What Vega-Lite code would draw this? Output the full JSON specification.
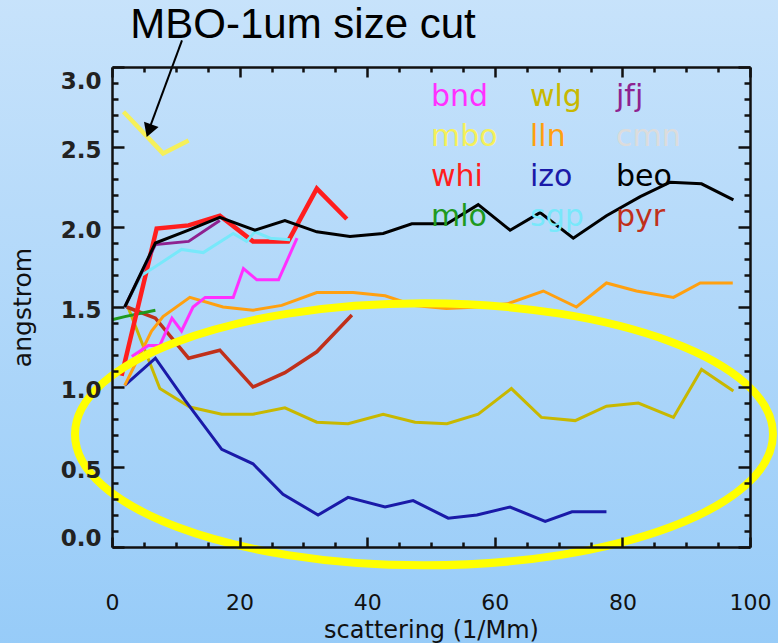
{
  "$schema": "https://vega.github.io/schema/vega-lite/v6.json",
  "width": 638,
  "height": 480,
  "autosize": {"type": "none"},
  "padding": {"left": 112, "top": 67, "right": 28, "bottom": 96},
  "background": "#b4d8fa",
  "config": {"view": {"stroke": null}, "font": "DejaVu Sans"},
  "resolve": {"axis": {"x": "independent", "y": "independent"}},
  "layer": [
    {
      "data": {"values": [{}]},
      "mark": {"type": "rect", "fill": {"gradient": "linear", "x1": 0, "y1": 0, "x2": 0, "y2": 1, "stops": [{"offset": 0, "color": "#c8e3fb"}, {"offset": 1, "color": "#96cbf8"}]}},
      "encoding": {
        "x": {"datum": -20, "type": "quantitative", "scale": {"domain": [0, 100], "nice": false}, "axis": null},
        "x2": {"datum": 110},
        "y": {"datum": 3.5, "type": "quantitative", "scale": {"domain": [0, 3], "nice": false}, "axis": null},
        "y2": {"datum": -0.7}
      }
    },
    {
      "data": {"values": [
        {"station": "wlg", "x": 2.5, "y": 1.50}, {"station": "wlg", "x": 7.5, "y": 0.99}, {"station": "wlg", "x": 12.2, "y": 0.875}, {"station": "wlg", "x": 17.2, "y": 0.83}, {"station": "wlg", "x": 22.1, "y": 0.83}, {"station": "wlg", "x": 27.1, "y": 0.87}, {"station": "wlg", "x": 32.1, "y": 0.78}, {"station": "wlg", "x": 37.0, "y": 0.77}, {"station": "wlg", "x": 42.5, "y": 0.83}, {"station": "wlg", "x": 47.5, "y": 0.78}, {"station": "wlg", "x": 52.5, "y": 0.77}, {"station": "wlg", "x": 57.4, "y": 0.83}, {"station": "wlg", "x": 62.6, "y": 0.99}, {"station": "wlg", "x": 67.3, "y": 0.81}, {"station": "wlg", "x": 72.6, "y": 0.79}, {"station": "wlg", "x": 77.5, "y": 0.88}, {"station": "wlg", "x": 82.5, "y": 0.90}, {"station": "wlg", "x": 88.0, "y": 0.81}, {"station": "wlg", "x": 92.4, "y": 1.11}, {"station": "wlg", "x": 97.4, "y": 0.975},
        {"station": "izo", "x": 2.0, "y": 1.01}, {"station": "izo", "x": 6.8, "y": 1.18}, {"station": "izo", "x": 11.4, "y": 0.92}, {"station": "izo", "x": 17.2, "y": 0.61}, {"station": "izo", "x": 22.1, "y": 0.52}, {"station": "izo", "x": 26.8, "y": 0.33}, {"station": "izo", "x": 32.3, "y": 0.20}, {"station": "izo", "x": 37.0, "y": 0.31}, {"station": "izo", "x": 42.8, "y": 0.25}, {"station": "izo", "x": 47.2, "y": 0.29}, {"station": "izo", "x": 52.7, "y": 0.18}, {"station": "izo", "x": 57.2, "y": 0.20}, {"station": "izo", "x": 62.4, "y": 0.25}, {"station": "izo", "x": 67.9, "y": 0.16}, {"station": "izo", "x": 72.1, "y": 0.22}, {"station": "izo", "x": 77.5, "y": 0.22},
        {"station": "pyr", "x": 2.3, "y": 1.50}, {"station": "pyr", "x": 6.8, "y": 1.43}, {"station": "pyr", "x": 12.0, "y": 1.18}, {"station": "pyr", "x": 16.9, "y": 1.23}, {"station": "pyr", "x": 22.1, "y": 1.00}, {"station": "pyr", "x": 27.1, "y": 1.09}, {"station": "pyr", "x": 32.1, "y": 1.22}, {"station": "pyr", "x": 37.6, "y": 1.45},
        {"station": "lln", "x": 2.0, "y": 1.01}, {"station": "lln", "x": 6.2, "y": 1.35}, {"station": "lln", "x": 8.0, "y": 1.44}, {"station": "lln", "x": 12.2, "y": 1.56}, {"station": "lln", "x": 17.4, "y": 1.50}, {"station": "lln", "x": 22.1, "y": 1.48}, {"station": "lln", "x": 26.6, "y": 1.51}, {"station": "lln", "x": 32.1, "y": 1.59}, {"station": "lln", "x": 37.8, "y": 1.59}, {"station": "lln", "x": 42.8, "y": 1.57}, {"station": "lln", "x": 47.4, "y": 1.51}, {"station": "lln", "x": 52.4, "y": 1.49}, {"station": "lln", "x": 57.4, "y": 1.50}, {"station": "lln", "x": 62.0, "y": 1.52}, {"station": "lln", "x": 67.6, "y": 1.60}, {"station": "lln", "x": 72.8, "y": 1.50}, {"station": "lln", "x": 77.5, "y": 1.65}, {"station": "lln", "x": 82.2, "y": 1.60}, {"station": "lln", "x": 88.0, "y": 1.56}, {"station": "lln", "x": 92.2, "y": 1.65}, {"station": "lln", "x": 97.3, "y": 1.65},
        {"station": "mlo", "x": 0.0, "y": 1.42}, {"station": "mlo", "x": 2.0, "y": 1.44}, {"station": "mlo", "x": 6.8, "y": 1.48},
        {"station": "bnd", "x": 3.1, "y": 1.19}, {"station": "bnd", "x": 5.7, "y": 1.26}, {"station": "bnd", "x": 7.5, "y": 1.26}, {"station": "bnd", "x": 9.4, "y": 1.43}, {"station": "bnd", "x": 10.9, "y": 1.35}, {"station": "bnd", "x": 12.7, "y": 1.50}, {"station": "bnd", "x": 14.6, "y": 1.56}, {"station": "bnd", "x": 19.0, "y": 1.56}, {"station": "bnd", "x": 20.6, "y": 1.74}, {"station": "bnd", "x": 22.7, "y": 1.67}, {"station": "bnd", "x": 26.1, "y": 1.67}, {"station": "bnd", "x": 29.0, "y": 1.93},
        {"station": "whi", "x": 1.5, "y": 1.07}, {"station": "whi", "x": 7.0, "y": 1.99}, {"station": "whi", "x": 12.0, "y": 2.01}, {"station": "whi", "x": 16.9, "y": 2.07}, {"station": "whi", "x": 22.1, "y": 1.91}, {"station": "whi", "x": 27.6, "y": 1.91}, {"station": "whi", "x": 32.1, "y": 2.24}, {"station": "whi", "x": 36.8, "y": 2.05},
        {"station": "sgp", "x": 2.0, "y": 1.50}, {"station": "sgp", "x": 4.7, "y": 1.70}, {"station": "sgp", "x": 6.7, "y": 1.75}, {"station": "sgp", "x": 10.9, "y": 1.86}, {"station": "sgp", "x": 14.3, "y": 1.84}, {"station": "sgp", "x": 19.0, "y": 1.96}, {"station": "sgp", "x": 21.1, "y": 1.91}, {"station": "sgp", "x": 22.4, "y": 1.97}, {"station": "sgp", "x": 24.8, "y": 1.93}, {"station": "sgp", "x": 27.9, "y": 1.92},
        {"station": "jfj", "x": 2.0, "y": 1.50}, {"station": "jfj", "x": 6.8, "y": 1.89}, {"station": "jfj", "x": 12.0, "y": 1.91}, {"station": "jfj", "x": 16.9, "y": 2.04},
        {"station": "beo", "x": 2.0, "y": 1.50}, {"station": "beo", "x": 6.8, "y": 1.90}, {"station": "beo", "x": 12.0, "y": 1.98}, {"station": "beo", "x": 16.9, "y": 2.06}, {"station": "beo", "x": 22.4, "y": 1.98}, {"station": "beo", "x": 27.1, "y": 2.04}, {"station": "beo", "x": 32.1, "y": 1.97}, {"station": "beo", "x": 37.3, "y": 1.94}, {"station": "beo", "x": 42.5, "y": 1.96}, {"station": "beo", "x": 47.0, "y": 2.02}, {"station": "beo", "x": 52.5, "y": 2.02}, {"station": "beo", "x": 57.4, "y": 2.14}, {"station": "beo", "x": 62.4, "y": 1.98}, {"station": "beo", "x": 67.1, "y": 2.09}, {"station": "beo", "x": 72.3, "y": 1.93}, {"station": "beo", "x": 77.5, "y": 2.07}, {"station": "beo", "x": 82.8, "y": 2.19}, {"station": "beo", "x": 87.5, "y": 2.28}, {"station": "beo", "x": 92.4, "y": 2.27}, {"station": "beo", "x": 97.4, "y": 2.17},
        {"station": "mbo", "x": 1.8, "y": 2.72}, {"station": "mbo", "x": 8.0, "y": 2.46}, {"station": "mbo", "x": 12.0, "y": 2.54}
      ]},
      "mark": {"type": "line", "strokeCap": "butt", "strokeJoin": "miter"},
      "encoding": {
        "x": {"field": "x", "type": "quantitative", "scale": {"domain": [0, 100], "nice": false},
          "axis": {"orient": "bottom", "values": [0,5,10,15,20,25,30,35,40,45,50,55,60,65,70,75,80,85,90,95,100],
            "labelExpr": "datum.value % 20 === 0 ? datum.label : ''",
            "tickSize": {"condition": {"test": "datum.value % 20 === 0", "value": -10}, "value": -5},
            "tickWidth": 2.5, "tickColor": "#111", "domain": true, "domainColor": "#111", "domainWidth": 2.5, "grid": false,
            "labelFont": "DejaVu Sans", "labelFontSize": 22, "labelColor": "#111", "labelPadding": 55,
            "labelFlush": false, "labelOverlap": false, "labelBound": false,
            "title": "scattering (1/Mm)", "titleFont": "DejaVu Sans", "titleFontSize": 24, "titleFontWeight": "normal", "titleColor": "#111",
            "titleX": 319, "titleY": 83, "titleAlign": "center", "titleBaseline": "middle", "zindex": 1}},
        "y": {"field": "y", "type": "quantitative", "scale": {"domain": [0, 3], "nice": false},
          "axis": {"orient": "left", "values": [0,0.1,0.2,0.3,0.4,0.5,0.6,0.7,0.8,0.9,1,1.1,1.2,1.3,1.4,1.5,1.6,1.7,1.8,1.9,2,2.1,2.2,2.3,2.4,2.5,2.6,2.7,2.8,2.9,3],
            "labelExpr": "round(datum.value*10) % 5 === 0 ? format(datum.value, '.1f') : ''",
            "tickSize": {"condition": {"test": "round(datum.value*10) % 5 === 0", "value": -12}, "value": -6},
            "tickWidth": 2.5, "tickColor": "#111", "domain": true, "domainColor": "#111", "domainWidth": 2.5, "grid": false,
            "labelFont": "DejaVu Sans", "labelFontSize": 23, "labelFontWeight": "bold", "labelColor": "#222", "labelPadding": 23, "labelOffset": 3,
            "labelFlush": true, "labelOverlap": false, "labelBound": false,
            "title": "angstrom", "titleFont": "DejaVu Sans", "titleFontSize": 25, "titleFontWeight": "normal", "titleColor": "#111",
            "titleX": -90, "titleY": 240, "titleAngle": 270, "titleAlign": "center", "titleBaseline": "middle", "zindex": 1}},
        "color": {"field": "station", "type": "nominal",
          "scale": {"domain": ["bnd","mbo","whi","mlo","wlg","lln","izo","sgp","jfj","cmn","beo","pyr"],
                    "range": ["#ff30ff","#f5f05a","#ff1e1e","#1f9a1f","#c8b800","#ffa010","#1a1aa8","#78e8fa","#8e2290","#dcdcdc","#000000","#c0301a"]},
          "legend": {"orient": "none", "legendX": 289, "legendY": 15, "columns": 3, "title": null, "padding": 0,
            "symbolSize": 0, "symbolOpacity": 0, "symbolStrokeWidth": 0, "labelOffset": 0,
            "labelFont": "DejaVu Sans", "labelFontSize": 30, "labelLimit": 300, "columnPadding": 2, "rowPadding": 10,
            "encode": {"labels": {"update": {"fill": {"scale": "color", "field": "value"}}}}}},
        "strokeWidth": {"field": "station", "type": "nominal",
          "scale": {"type": "ordinal", "domain": ["bnd","mbo","whi","mlo","wlg","lln","izo","sgp","jfj","cmn","beo","pyr"],
                    "range": [3, 4.5, 4.5, 3, 3, 3, 3, 3, 3, 3, 3, 3.5]},
          "legend": null}
      }
    },
    {
      "data": {"values": [{}]},
      "mark": {"type": "point", "shape": "M -1 0 C -1 -0.2073 -0.5523 -0.3754 0 -0.3754 C 0.5523 -0.3754 1 -0.2073 1 0 C 1 0.2073 0.5523 0.3754 0 0.3754 C -0.5523 0.3754 -1 0.2073 -1 0 Z",
        "filled": false, "color": "#ffff00", "strokeWidth": 8, "opacity": 1, "size": 487204},
      "encoding": {
        "x": {"datum": 48.9, "type": "quantitative", "scale": {"domain": [0, 100], "nice": false},
          "axis": {"orient": "top", "values": [0,5,10,15,20,25,30,35,40,45,50,55,60,65,70,75,80,85,90,95,100], "labels": false, "title": null,
            "tickSize": {"condition": {"test": "datum.value % 20 === 0", "value": -10}, "value": -5},
            "tickWidth": 2.5, "tickColor": "#111", "domain": true, "domainColor": "#111", "domainWidth": 2.5, "grid": false, "zindex": 1}},
        "y": {"datum": 0.704, "type": "quantitative", "scale": {"domain": [0, 3], "nice": false},
          "axis": {"orient": "right", "values": [0,0.1,0.2,0.3,0.4,0.5,0.6,0.7,0.8,0.9,1,1.1,1.2,1.3,1.4,1.5,1.6,1.7,1.8,1.9,2,2.1,2.2,2.3,2.4,2.5,2.6,2.7,2.8,2.9,3], "labels": false, "title": null,
            "tickSize": {"condition": {"test": "round(datum.value*10) % 5 === 0", "value": -12}, "value": -6},
            "tickWidth": 2.5, "tickColor": "#111", "domain": true, "domainColor": "#111", "domainWidth": 2.5, "grid": false, "zindex": 1}}
      }
    },
    {
      "data": {"values": [{}]},
      "mark": {"type": "text", "text": "MBO-1um size cut", "font": "Liberation Sans", "fontSize": 42, "color": "#000", "align": "center", "baseline": "alphabetic"},
      "encoding": {
        "x": {"datum": 29.94, "type": "quantitative", "scale": {"domain": [0, 100], "nice": false}, "axis": null},
        "y": {"datum": 3.179, "type": "quantitative", "scale": {"domain": [0, 3], "nice": false}, "axis": null}
      }
    },
    {
      "data": {"values": [{}]},
      "mark": {"type": "rule", "color": "#000", "strokeWidth": 2},
      "encoding": {
        "x": {"datum": 10.97, "type": "quantitative", "scale": {"domain": [0, 100], "nice": false}, "axis": null},
        "y": {"datum": 3.167, "type": "quantitative", "scale": {"domain": [0, 3], "nice": false}, "axis": null},
        "x2": {"datum": 5.64},
        "y2": {"datum": 2.592}
      }
    },
    {
      "data": {"values": [{}]},
      "mark": {"type": "point", "shape": "triangle-up", "filled": true, "color": "#000", "size": 240, "angle": 200, "opacity": 1},
      "encoding": {
        "x": {"datum": 5.80, "type": "quantitative", "scale": {"domain": [0, 100], "nice": false}, "axis": null},
        "y": {"datum": 2.602, "type": "quantitative", "scale": {"domain": [0, 3], "nice": false}, "axis": null}
      }
    }
  ]
}
